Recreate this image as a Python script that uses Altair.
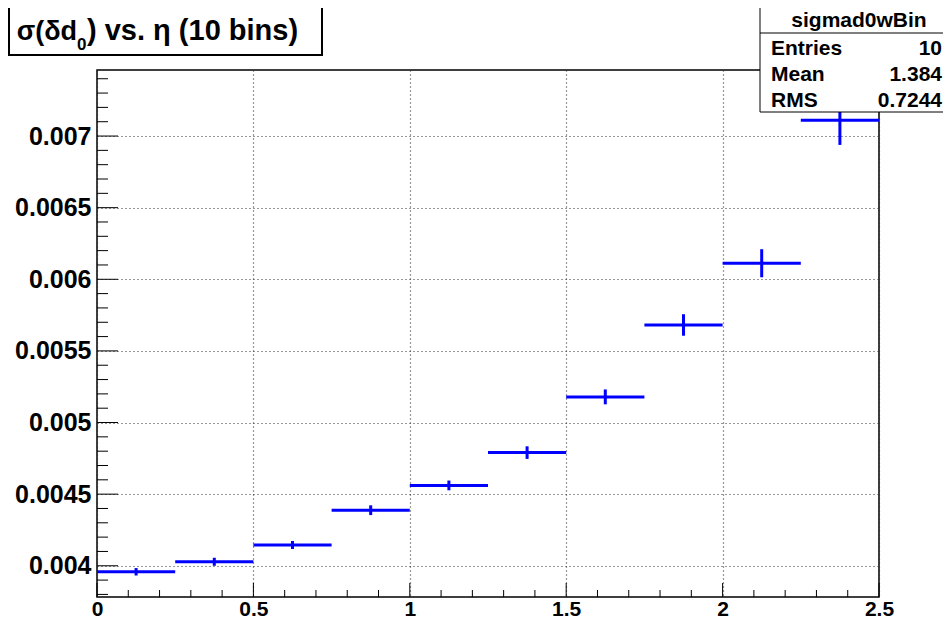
import altair as alt
import pandas as pd

# ---- data ----
bin_lo = [0.0, 0.25, 0.5, 0.75, 1.0, 1.25, 1.5, 1.75, 2.0, 2.25]
bin_hi = [0.25, 0.5, 0.75, 1.0, 1.25, 1.5, 1.75, 2.0, 2.25, 2.5]
sigma_d0 = [0.003958, 0.004028, 0.004145, 0.004388, 0.004561,
            0.004790, 0.005179, 0.005681, 0.006112, 0.007110]
sigma_err = [0.000026, 0.000028, 0.000028, 0.000034, 0.000034,
             0.000044, 0.000052, 0.000075, 0.000098, 0.000172]

x_major = [0, 0.5, 1, 1.5, 2, 2.5]
x_minor = [0.1, 0.2, 0.3, 0.4, 0.6, 0.7, 0.8, 0.9, 1.1, 1.2, 1.3, 1.4,
           1.6, 1.7, 1.8, 1.9, 2.1, 2.2, 2.3, 2.4]
y_major = [0.004, 0.0045, 0.005, 0.0055, 0.006, 0.0065, 0.007]
y_minor = [0.0038, 0.0039, 0.0041, 0.0042, 0.0043, 0.0044, 0.0046, 0.0047,
           0.0048, 0.0049, 0.0051, 0.0052, 0.0053, 0.0054, 0.0056, 0.0057,
           0.0058, 0.0059, 0.0061, 0.0062, 0.0063, 0.0064, 0.0066, 0.0067,
           0.0068, 0.0069, 0.0071, 0.0072, 0.0073, 0.0074]
x_domain = [0.0, 2.5]
y_domain = [0.003782, 0.007461]

stats_name = "sigmad0wBin"
stats_labels = ["Entries", "Mean", "RMS"]
stats_values = ["10", "1.384", "0.7244"]

# ---- layout ----
W, H = 782, 527
FONT = "Liberation Sans"
BLUE = "#0000ff"

df = pd.DataFrame({"lo": bin_lo, "hi": bin_hi, "y": sigma_d0, "e": sigma_err})
df["c"] = (df["lo"] + df["hi"]) / 2
df["ylo"] = df["y"] - df["e"]
df["yhi"] = df["y"] + df["e"]

xscale = alt.Scale(domain=x_domain, nice=False, zero=False)
yscale = alt.Scale(domain=y_domain, nice=False, zero=False)

grid_common = dict(ticks=False, domain=False, grid=True, gridDash=[1, 3],
                   gridColor="#333333", gridWidth=1.2, labelFont=FONT,
                   labelFontWeight="bold", labelColor="black",
                   labelOverlap=False, title=None)
xaxis = alt.Axis(values=x_major, format="~g", labelFontSize=21,
                 labelBaseline="alphabetic", labelPadding=18,
                 labelFlush=False, **grid_common)
yaxis = alt.Axis(values=y_major, format="~g", labelFontSize=25,
                 labelPadding=6, **grid_common)


def X(f):
    return alt.X(f"{f}:Q", scale=xscale, axis=xaxis)


def Y(f):
    return alt.Y(f"{f}:Q", scale=yscale, axis=yaxis)


base = alt.Chart(df)
hbar = base.mark_rule(color=BLUE, strokeWidth=3).encode(
    x=X("lo"), x2="hi:Q", y=Y("y"))
vbar = base.mark_rule(color=BLUE, strokeWidth=3).encode(
    x=X("c"), y=Y("ylo"), y2="yhi:Q")

ym = alt.Chart(pd.DataFrame({"v": y_major})).mark_rule(
    color="black", strokeWidth=1).encode(
    y=Y("v"), x=alt.value(0), x2=alt.value(21))
yn = alt.Chart(pd.DataFrame({"v": y_minor})).mark_rule(
    color="black", strokeWidth=1).encode(
    y=Y("v"), x=alt.value(0), x2=alt.value(11))
xm = alt.Chart(pd.DataFrame({"v": x_major})).mark_rule(
    color="black", strokeWidth=1).encode(
    x=X("v"), y=alt.value(H), y2=alt.value(H - 14))
xn = alt.Chart(pd.DataFrame({"v": x_minor})).mark_rule(
    color="black", strokeWidth=1).encode(
    x=X("v"), y=alt.value(H), y2=alt.value(H - 7))

one = pd.DataFrame({"k": [0]})


def box(x1, x2, y1, y2, sw=1):
    return alt.Chart(one).mark_rect(fill="white", stroke="black",
                                    strokeWidth=sw).encode(
        x=alt.value(x1), x2=alt.value(x2), y=alt.value(y1), y2=alt.value(y2))


def txt(s, x, y, size, align="left", weight="bold"):
    return alt.Chart(pd.DataFrame({"t": [s]})).mark_text(
        font=FONT, fontSize=size, fontWeight=weight, align=align,
        baseline="alphabetic", color="black").encode(
        x=alt.value(x), y=alt.value(y), text="t:N")


title_layers = [
    box(-88, 225, -63, -15, 2),
    txt("σ(δd", -20, -30, 27, "right"),
    txt("0", -20, -20, 17, "left"),
    txt(") vs. η (10 bins)", -10, -30, 29, "left"),
]

stats_layers = [
    box(663, 870, -63, 42, 1),
    alt.Chart(one).mark_rule(color="black", strokeWidth=1).encode(
        x=alt.value(663), x2=alt.value(870), y=alt.value(-37)),
    txt(stats_name, 762, -43, 21, "center", "bold"),
]
row_y = [-15, 11, 37]
for lab, val, ry in zip(stats_labels, stats_values, row_y):
    stats_layers.append(txt(lab, 674, ry, 21, "left"))
    stats_layers.append(txt(val, 845, ry, 21, "right"))

chart = alt.layer(
    ym, yn, xm, xn, hbar, vbar, *title_layers, *stats_layers
).properties(
    width=W, height=H,
    padding={"left": 89, "top": 62, "right": 64, "bottom": 21},
    autosize=alt.AutoSizeParams(type="none"),
    background="white",
).configure_view(stroke="black", strokeWidth=1.5)

chart.save("out.html", embed_options={"renderer": "svg", "actions": False})
